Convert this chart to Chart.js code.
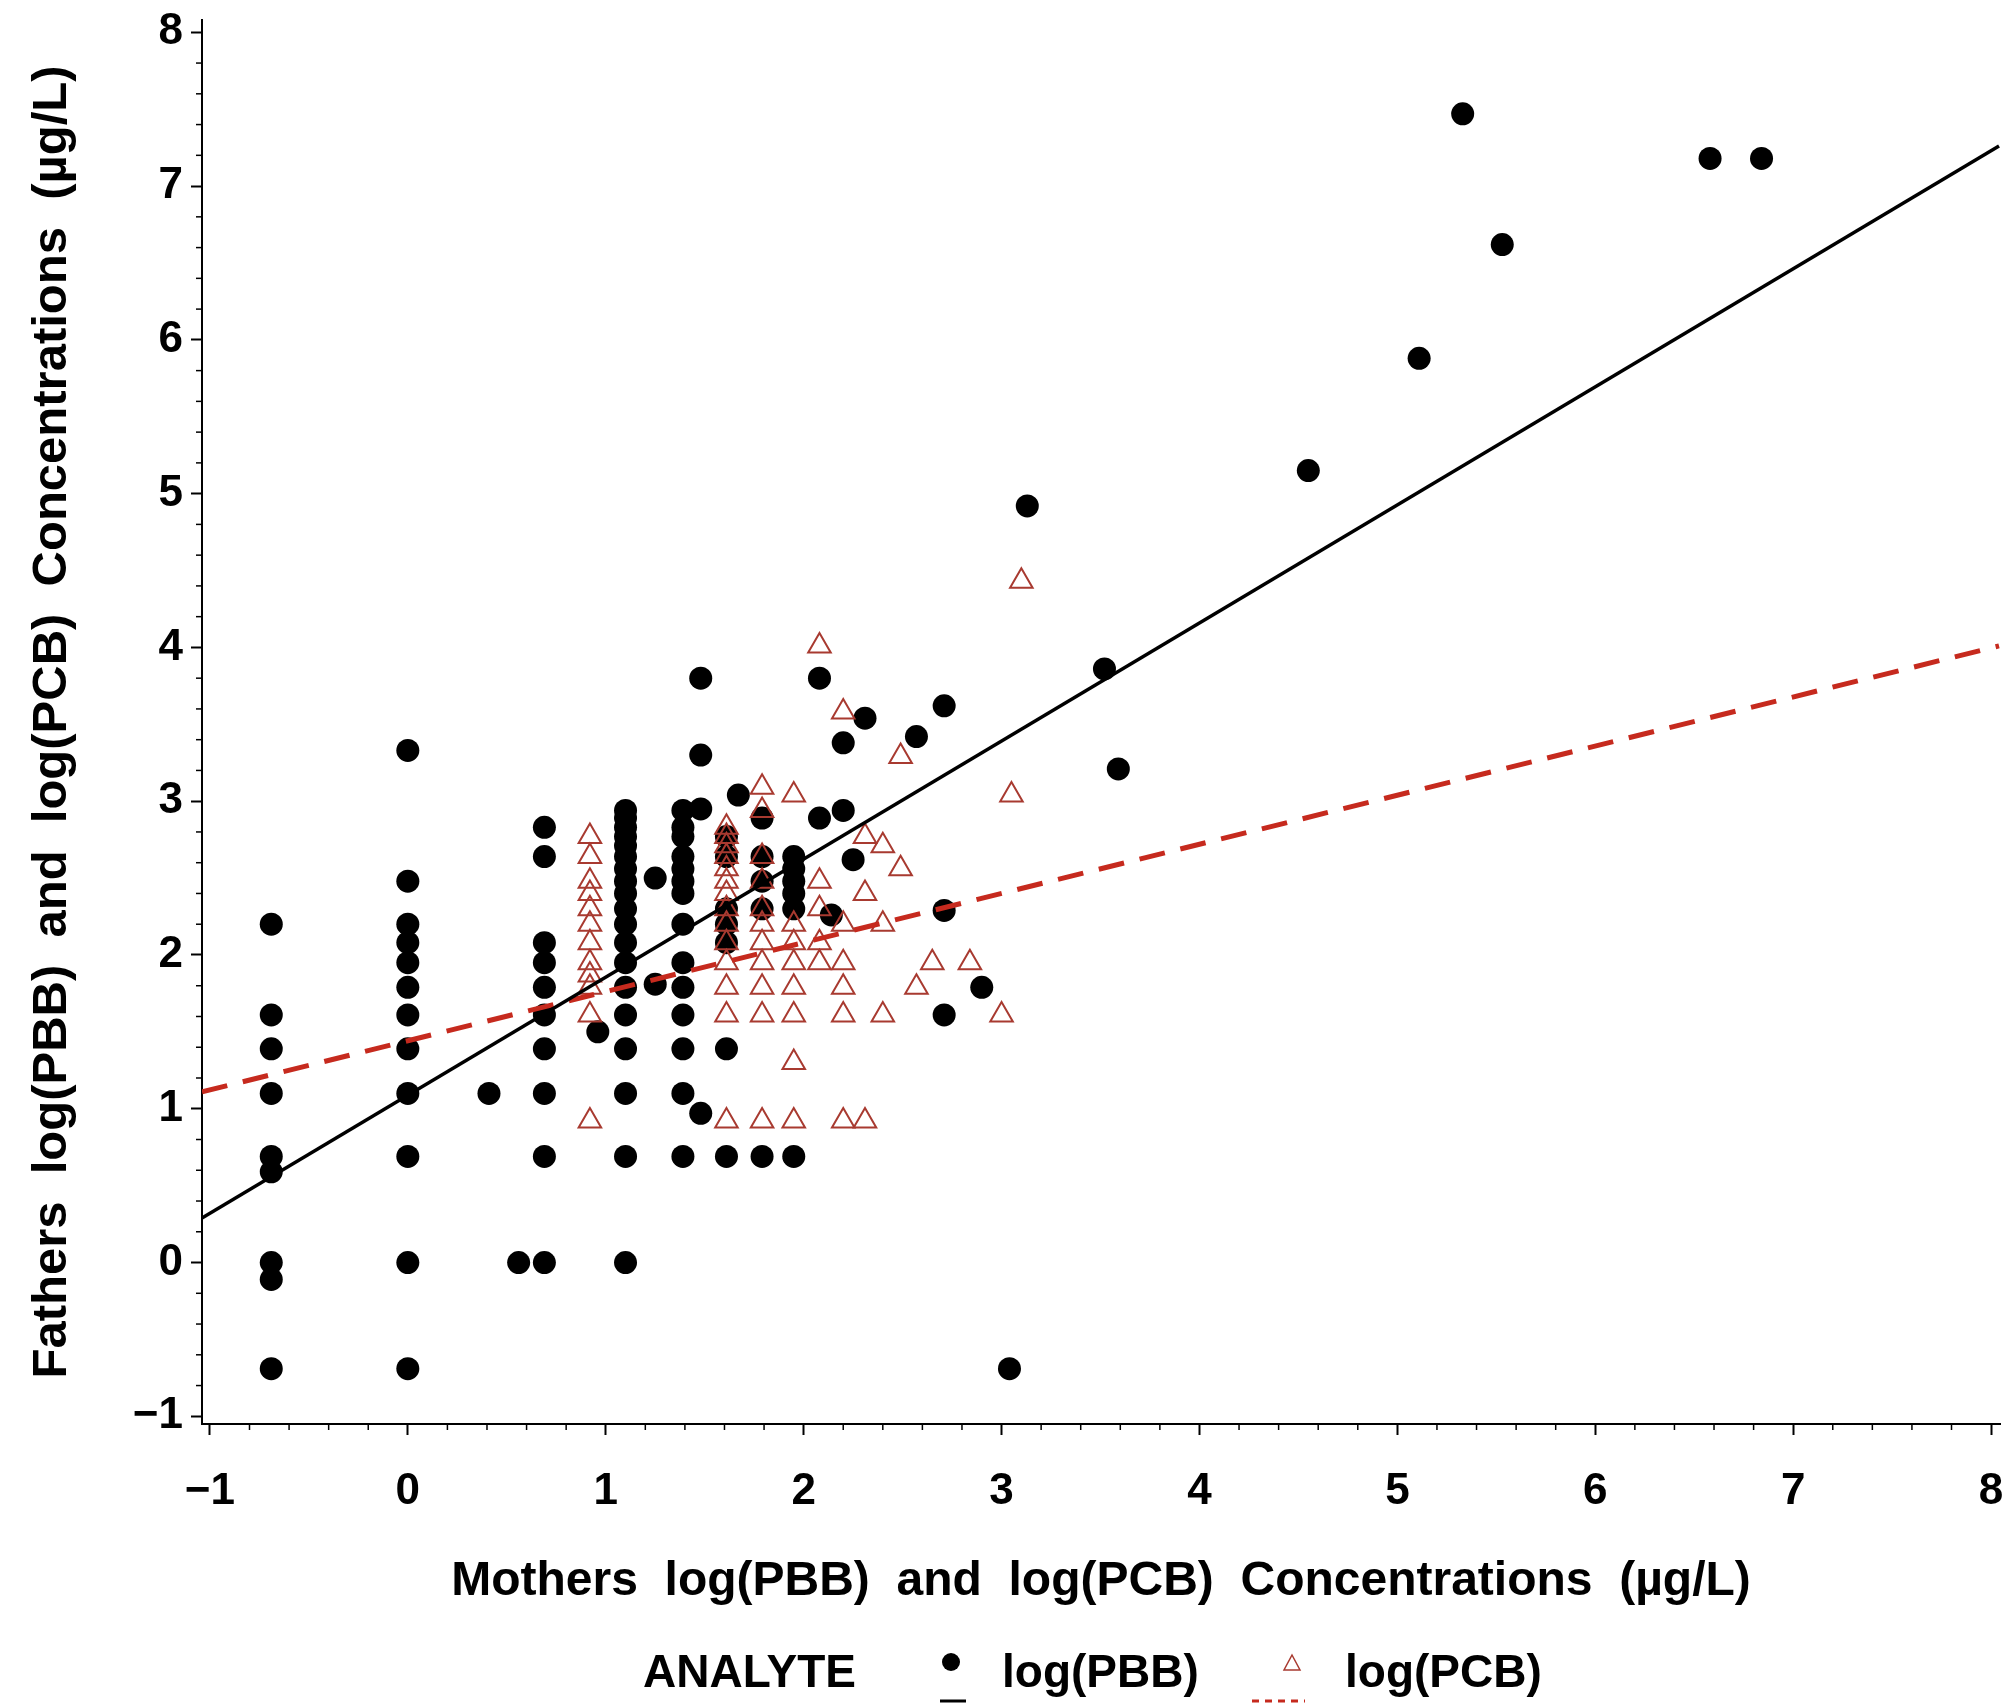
<!DOCTYPE html>
<html>
<head>
<meta charset="utf-8">
<script src="https://cdn.jsdelivr.net/npm/chart.js@4.4.1/dist/chart.umd.min.js"></script>
<style>
html,body{margin:0;padding:0;background:#fff}
#wrap{width:2015px;height:1707px}
</style>
</head>
<body>
<div id="wrap"><canvas id="plot" width="2015" height="1707"></canvas></div>
<script>

// DATA (natural log values)

const xTicks = [-1,0,1,2,3,4,5,6,7,8]
const yTicks = [-1,0,1,2,3,4,5,6,7,8]

// log(PBB): one x per column, the y values found in that column
const pbbColX = [-0.69,0,0.41,0.56,0.69,0.96,1.10,1.25,1.39,1.48,1.61,1.67,1.79,1.95,2.08,2.14,2.20,2.25,2.31,2.57,2.71,2.90,3.04,3.13,3.52,3.59,4.55,5.11,5.33,5.53,6.58,6.84]
const pbbColY = [
[2.20,1.61,1.39,1.10,0.69,0.59,0,-0.11,-0.69],
[3.33,2.48,2.20,2.08,1.95,1.79,1.61,1.39,1.10,0.69,0,-0.69],
[1.10],
[0],
[2.83,2.64,2.08,1.95,1.79,1.61,1.39,1.10,0.69,0],
[1.50],
[2.94,2.89,2.83,2.77,2.71,2.64,2.56,2.48,2.40,2.30,2.20,2.08,1.95,1.79,1.61,1.39,1.10,0.69,0],
[2.50,1.81],
[2.94,2.83,2.77,2.64,2.56,2.48,2.40,2.20,1.95,1.79,1.61,1.39,1.10,0.69],
[3.80,3.30,2.95,0.97],
[2.77,2.64,2.30,2.20,2.08,1.39,0.69],
[3.04],
[2.89,2.64,2.48,2.30,0.69],
[2.64,2.56,2.48,2.40,2.30,0.69],
[3.80,2.89],
[2.26],
[3.38,2.94],
[2.62],
[3.54],
[3.42],
[3.62,2.29,1.61],
[1.79],
[-0.69],
[4.92],
[3.86],
[3.21],
[5.15],
[5.88],
[7.47],
[6.62],
[7.18],
[7.18]
]

// log(PCB)
const pcbColX = [0.92,1.61,1.79,1.95,2.08,2.20,2.31,2.40,2.49,2.57,2.65,2.84,3.00,3.05,3.10]
const pcbColY = [
[2.77,2.64,2.48,2.40,2.30,2.20,2.08,1.95,1.87,1.79,1.61,0.92],
[2.83,2.77,2.71,2.64,2.56,2.48,2.40,2.30,2.20,2.08,1.95,1.79,1.61,0.92],
[3.09,2.94,2.64,2.48,2.30,2.20,2.08,1.95,1.79,1.61,0.92],
[3.04,2.20,2.08,1.95,1.79,1.61,1.30,0.92],
[4.01,2.48,2.30,2.08,1.95],
[3.58,2.20,1.95,1.79,1.61,0.92],
[2.77,2.40,0.92],
[2.71,2.20,1.61],
[3.29,2.56],
[1.79],
[1.95],
[1.95],
[1.61],
[3.04],
[4.43]
]

// fitted lines, ends at the plot edges
const fitX = [-1.04,8.04]
const pbbFitY = [0.29,7.26]
const pcbFitY = [1.11,4.01]

const xTitle = 'Mothers  log(PBB)  and  log(PCB)  Concentrations  (\u00b5g/L)'
const yTitle = 'Fathers  log(PBB)  and  log(PCB)  Concentrations  (\u00b5g/L)'


// build points

const toPoints = (cols,ys)=>cols.flatMap((x,i)=>ys[i].map(y=>({x:x,y:y})))
const pbbPoints = toPoints(pbbColX,pbbColY)
const pcbPoints = toPoints(pcbColX,pcbColY)
const pbbFit = fitX.map((x,i)=>({x:x,y:pbbFitY[i]}))
const pcbFit = fitX.map((x,i)=>({x:x,y:pcbFitY[i]}))

const sans = '"Liberation Sans", Arial, sans-serif'
const fmt = v=> v<0 ? '\u2212'+Math.abs(v) : String(v)

const pbbColor = '#000000'
const pcbColor = '#a83a30'
const pcbLine = '#c62a1e'


// minor ticks, 4 between each pair of labelled ticks

const minorTicks = {
id:'minorTicks',
afterDraw(chart){
const {ctx,chartArea:a,scales:{x,y}} = chart
ctx.save()
ctx.strokeStyle = '#000'
ctx.lineWidth = 1.5
for(let i=0;i<xTicks.length-1;i++){
for(let k=1;k<5;k++){
const px = x.getPixelForValue(xTicks[i]+(xTicks[i+1]-xTicks[i])*k/5)
ctx.beginPath(); ctx.moveTo(px,a.bottom); ctx.lineTo(px,a.bottom+6); ctx.stroke()
}
}
for(let i=0;i<yTicks.length-1;i++){
for(let k=1;k<5;k++){
const py = y.getPixelForValue(yTicks[i]+(yTicks[i+1]-yTicks[i])*k/5)
ctx.beginPath(); ctx.moveTo(a.left,py); ctx.lineTo(a.left-6,py); ctx.stroke()
}
}
ctx.restore()
}
}


// legend row under the axis title

const analyteLegend = {
id:'analyteLegend',
afterDraw(chart){
const ctx = chart.ctx
const base = 1687
ctx.save()
ctx.fillStyle = '#000'
ctx.font = 'bold 46px '+sans
ctx.textBaseline = 'alphabetic'
ctx.fillText('ANALYTE',643,base)
ctx.fillText('log(PBB)',1002,base)
ctx.fillText('log(PCB)',1345,base)

// PBB symbol: dot over a solid stroke
ctx.beginPath(); ctx.arc(951,1662,9,0,Math.PI*2); ctx.fill()
ctx.strokeStyle = pbbColor; ctx.lineWidth = 3
ctx.beginPath(); ctx.moveTo(940,1701); ctx.lineTo(966,1701); ctx.stroke()

// PCB symbol: open triangle over a dashed stroke
ctx.strokeStyle = pcbColor; ctx.lineWidth = 1.5
ctx.beginPath(); ctx.moveTo(1292,1655); ctx.lineTo(1300,1670); ctx.lineTo(1284,1670); ctx.closePath(); ctx.stroke()
ctx.strokeStyle = pcbLine; ctx.lineWidth = 3
ctx.setLineDash([7,6])
ctx.beginPath(); ctx.moveTo(1252,1701); ctx.lineTo(1305,1701); ctx.stroke()
ctx.restore()
}
}


// CHART

const axisCommon = {
type:'linear',
grid:{drawOnChartArea:false,tickLength:11,tickWidth:2,tickColor:'#000'},
border:{display:true,color:'#000',width:2}
}

new Chart(document.getElementById('plot'),{
type:'scatter',
data:{
datasets:[
{
label:'PBB fit',
data:pbbFit,
showLine:true,
borderColor:pbbColor,
borderWidth:3.5,
pointRadius:0,
order:0
},
{
label:'PCB fit',
data:pcbFit,
showLine:true,
borderColor:pcbLine,
borderWidth:5,
borderDash:[26,16],
pointRadius:0,
order:0
},
{
label:'log(PCB)',
data:pcbPoints,
pointStyle:'triangle',
pointRadius:13,
borderColor:pcbColor,
borderWidth:2,
backgroundColor:'rgba(255,255,255,0)',
order:1
},
{
label:'log(PBB)',
data:pbbPoints,
pointStyle:'circle',
pointRadius:11.5,
borderWidth:0,
backgroundColor:pbbColor,
borderColor:pbbColor,
order:2
}
]
},
options:{
responsive:false,
animation:false,
layout:{padding:{top:20,right:12,bottom:0,left:0}},
plugins:{legend:{display:false},tooltip:{enabled:false}},
scales:{
x:{
...axisCommon,
min:-1.04,
max:8.045,
afterFit:s=>{s.height=283; s.paddingLeft=0; s.paddingRight=0},
afterBuildTicks:s=>{s.ticks=xTicks.map(v=>({value:v}))},
ticks:{color:'#000',padding:30,maxRotation:0,autoSkip:false,font:{family:sans,size:44,weight:'bold'},callback:v=>fmt(v)},
title:{display:true,text:xTitle,color:'#000',font:{family:sans,size:48,weight:'bold'},padding:{top:0,bottom:96}}
},
y:{
...axisCommon,
min:-1.05,
max:8.08,
afterFit:s=>{s.width=202; s.paddingTop=0; s.paddingBottom=0},
afterBuildTicks:s=>{s.ticks=yTicks.map(v=>({value:v}))},
ticks:{color:'#000',padding:8,autoSkip:false,font:{family:sans,size:44,weight:'bold',lineHeight:0.8},callback:v=>fmt(v)},
title:{display:true,text:yTitle,color:'#000',font:{family:sans,size:49,weight:'bold'},padding:{top:23,bottom:0}}
}
}
},
plugins:[minorTicks,analyteLegend]
})

</script>
</body>
</html>
